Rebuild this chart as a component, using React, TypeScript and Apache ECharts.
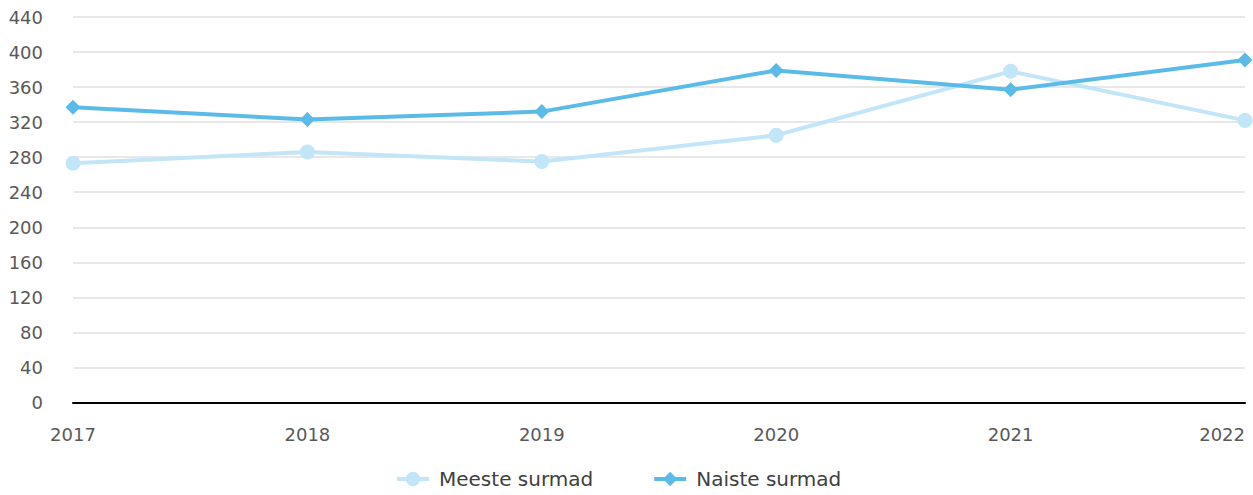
import React, { useEffect, useRef } from "react";
import * as echarts from "echarts";

const years = ["2017", "2018", "2019", "2020", "2021", "2022"];
const meesteSurmad = [273, 286, 275, 305, 378, 322];
const naisteSurmad = [337, 323, 332, 379, 357, 391];
const seriesNames = ["Meeste surmad", "Naiste surmad"];

const FONT = "DejaVu Sans";

export default function App() {
  const ref = useRef<HTMLDivElement>(null);
  useEffect(() => {
    document.body.style.margin = "0";
    const chart = echarts.init(ref.current!, null, { renderer: "svg" });
    chart.setOption({
      animation: false,
      backgroundColor: "#ffffff",
      textStyle: { fontFamily: FONT },
      grid: { left: 73, right: 8, top: 17, bottom: 92.5, containLabel: false },
      legend: {
        top: 469,
        left: 395,
        padding: 0,
        itemGap: 59,
        itemWidth: 32,
        itemHeight: 18,
        textStyle: { fontFamily: FONT, fontSize: 20, color: "#404040", padding: [0, 0, 0, 5] },
        lineStyle: { width: 4 },
        data: seriesNames,
      },
      xAxis: {
        type: "category",
        data: years,
        boundaryGap: false,
        axisLine: { show: true, lineStyle: { color: "#000000", width: 2 } },
        axisTick: { show: false },
        axisLabel: {
          fontFamily: FONT,
          fontSize: 18,
          color: "#595959",
          margin: 23,
          alignMaxLabel: "right",
        },
        splitLine: { show: false },
      },
      yAxis: {
        type: "value",
        min: 0,
        max: 440,
        interval: 40,
        axisLine: { show: false },
        axisTick: { show: false },
        axisLabel: { fontFamily: FONT, fontSize: 18, color: "#595959", margin: 30 },
        splitLine: { lineStyle: { color: "#e0e0e0", width: 1.5 } },
      },
      series: [
        {
          name: seriesNames[0],
          type: "line",
          data: meesteSurmad,
          symbol: "circle",
          symbolSize: 15,
          lineStyle: { color: "#c2e6f7", width: 4 },
          itemStyle: { color: "#c2e6f7" },
        },
        {
          name: seriesNames[1],
          type: "line",
          data: naisteSurmad,
          symbol: "diamond",
          symbolSize: 15,
          lineStyle: { color: "#5bbbe8", width: 4 },
          itemStyle: { color: "#5bbbe8" },
        },
      ],
    });
    return () => chart.dispose();
  }, []);
  return <div ref={ref} style={{ width: 1253, height: 495 }} />;
}
